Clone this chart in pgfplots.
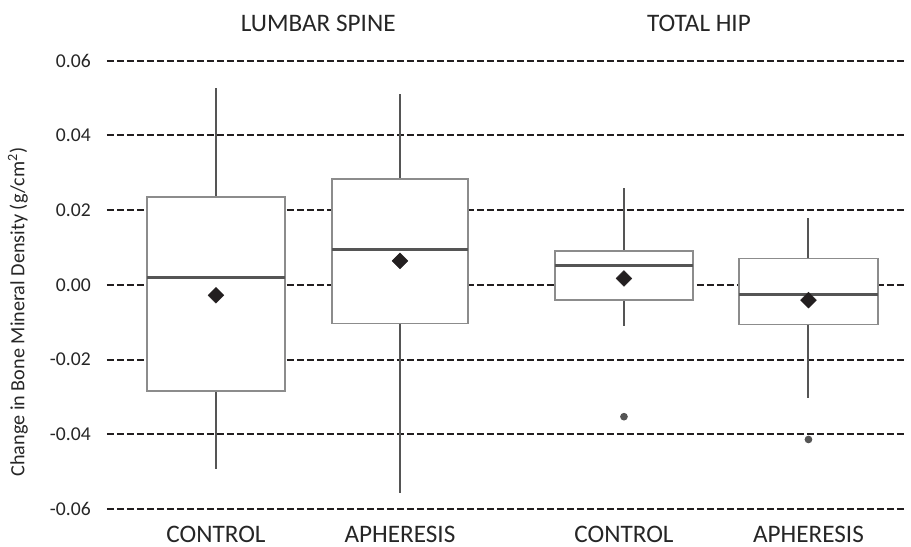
\documentclass[border=0pt]{standalone}
\usepackage{fontspec}
\setmainfont{Carlito}
\usepackage{pgfplots}
\pgfplotsset{compat=1.18}
\usepgfplotslibrary{statistics}
\definecolor{boxgray}{HTML}{8C8C8C}
\definecolor{medgray}{HTML}{555555}
\definecolor{gridblack}{HTML}{231F20}
\definecolor{txt}{HTML}{262626}
\begin{document}
\begin{tikzpicture}
\begin{axis}[
  scale only axis, width=399.5pt, height=224.15pt,
  xmin=107, xmax=906, ymin=-0.06, ymax=0.06,
  axis line style={draw=none},
  major tick length=0pt,
  scaled y ticks=false,
  ytick={-0.06,-0.04,-0.02,0,0.02,0.04,0.06},
  yticklabels={-0.06,-0.04,-0.02,0.00,0.02,0.04,0.06},
  yticklabel style={font=\fontsize{9.8}{11}\selectfont, text=txt, xshift=-4.6pt},
  xtick={216,400,624,808.5},
  xticklabels={CONTROL,APHERESIS,CONTROL,APHERESIS},
  xticklabel style={font=\fontsize{12.6}{15}\selectfont, text=txt, yshift=-5pt},
  ymajorgrids,
  major grid style={draw=gridblack, line width=1pt, dash pattern=on 3.3pt off 1.7pt},
  clip=false,
  boxplot/draw direction=y,
  boxplot/whisker extend=0,
  boxplot/every box/.style={draw=boxgray, line width=0.8pt, fill=white},
  boxplot/every median/.style={draw=medgray, line width=1.6pt},
  boxplot/every whisker/.style={draw=medgray, line width=1pt},
]
\addplot[mark=*, mark size=1.7pt, mark options={fill=medgray, draw=medgray},
  boxplot prepared={draw position=216, box extend=138,
    lower whisker=-0.0492, lower quartile=-0.0284, median=0.0019,
    upper quartile=0.0235, upper whisker=0.0528}]
  coordinates {};
\addplot[mark=*, mark size=1.7pt, mark options={fill=medgray, draw=medgray},
  boxplot prepared={draw position=400, box extend=136,
    lower whisker=-0.0556, lower quartile=-0.0104, median=0.0094,
    upper quartile=0.0284, upper whisker=0.0510}]
  coordinates {};
\addplot[mark=*, mark size=1.7pt, mark options={fill=medgray, draw=medgray},
  boxplot prepared={draw position=624, box extend=138,
    lower whisker=-0.0110, lower quartile=-0.0041, median=0.0051,
    upper quartile=0.0090, upper whisker=0.0258}]
  coordinates {(0,-0.0353)};
\addplot[mark=*, mark size=1.7pt, mark options={fill=medgray, draw=medgray},
  boxplot prepared={draw position=808.5, box extend=139,
    lower whisker=-0.0302, lower quartile=-0.0106, median=-0.0025,
    upper quartile=0.0070, upper whisker=0.0180}]
  coordinates {(0,-0.0414)};
% means
\addplot[only marks, mark=square*, mark size=2.8pt,
  mark options={rotate=45, fill=gridblack, draw=gridblack, line width=0.2pt}]
  coordinates {(216,-0.0028) (400,0.0064) (624,0.0017) (808.5,-0.0041)};
\node[font=\fontsize{12.6}{15}\selectfont, text=txt, anchor=center] at ({axis cs:318.3,0}|-{rel axis cs:0,1.0827}) {LUMBAR SPINE};
\node[font=\fontsize{12.6}{15}\selectfont, text=txt, anchor=center] at ({axis cs:699,0}|-{rel axis cs:0,1.0827}) {TOTAL HIP};
\node[font=\fontsize{10.1}{12}\selectfont, text=txt, rotate=90, anchor=center] at (rel axis cs:-0.1114,0.4397) {Change in Bone Mineral Density (g/cm\textsuperscript{2})};
\coordinate (bl) at (rel axis cs:-0.1339,-0.0848);
\coordinate (tr) at (rel axis cs:1.0063,1.1354);
\end{axis}
\pgfresetboundingbox
\useasboundingbox (bl) rectangle (tr);
\end{tikzpicture}
\end{document}
